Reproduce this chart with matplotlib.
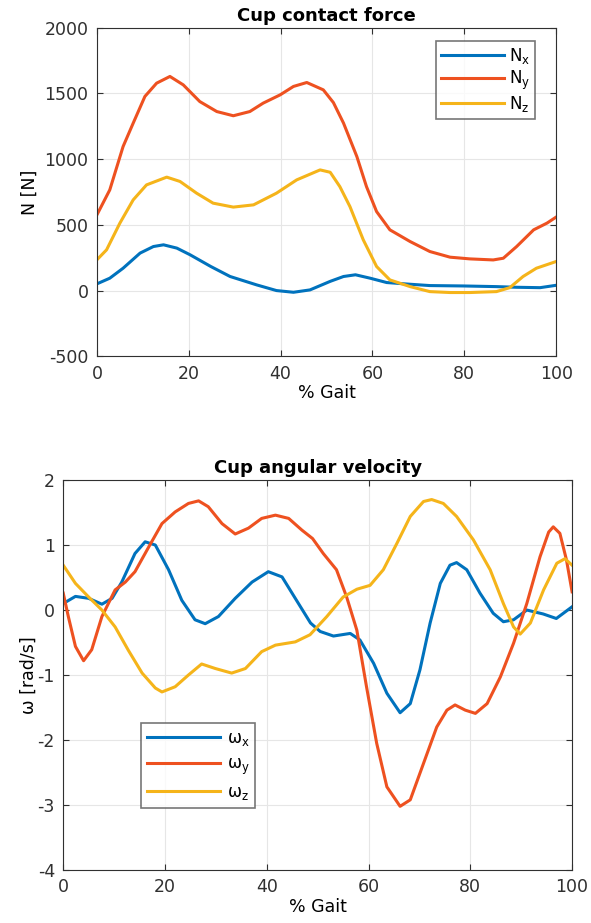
import numpy as np
import matplotlib.pyplot as plt

plt.rcParams['font.family'] = ['DejaVu Sans']
plt.rcParams['axes.unicode_minus'] = False
plt.rcParams['lines.solid_joinstyle'] = 'round'

BLUE = '#0072BD'
RED = '#EE5120'
YELLOW = '#F5B41A'

# Cup contact force (N) vs % gait
gait_nx = [0, 2.8, 5.7, 9.4, 12.3, 14.5, 17.4, 20.3, 24.8, 29.0, 34.8, 39.1, 42.8, 46.4,
           50.8, 53.7, 56.3, 59.5, 63.1, 68.2, 72.5, 79.8, 87.0, 91.4, 96.5, 100]
nx = [51, 94, 170, 285, 335, 348, 323, 272, 183, 107, 43, 0, -13, 5,
      70, 107, 120, 94, 61, 48, 38, 35, 30, 25, 22, 40]

gait_ny = [0, 2.8, 5.7, 7.9, 10.45, 13.0, 15.9, 18.8, 22.4, 26.1, 29.7, 33.3, 36.2, 39.9,
           42.8, 45.7, 49.3, 51.5, 53.7, 56.6, 58.7, 60.9, 63.8, 68.2, 72.5, 76.9, 81.2,
           86.3, 88.5, 91.4, 95.1, 98.0, 100]
ny = [576, 766, 1096, 1274, 1477, 1578, 1629, 1565, 1438, 1362, 1330, 1362, 1426, 1489,
      1553, 1583, 1527, 1430, 1274, 1020, 791, 601, 462, 373, 297, 254, 241,
      233, 246, 335, 462, 513, 559]

gait_nz = [0, 2.1, 5.0, 7.9, 10.8, 15.2, 18.1, 21.7, 25.3, 29.7, 34.1, 39.1, 43.5, 48.6,
           50.8, 52.9, 55.1, 58.0, 60.9, 63.8, 68.2, 72.5, 76.9, 81.2, 87.0, 89.9, 92.8,
           95.7, 100]
nz = [234, 310, 513, 690, 804, 863, 830, 741, 665, 635, 652, 741, 842, 918,
      900, 791, 639, 386, 183, 81, 30, -8, -15, -15, -8, 22, 107,
      170, 221]

# Cup angular velocity (rad/s) vs % gait
gait_wx = [0, 2.4, 5.0, 7.6, 9.6, 11.5, 14.1, 16.1, 18.1, 20.7, 23.3, 25.9, 27.9, 30.5,
           33.8, 37.1, 40.3, 43.0, 45.6, 48.6, 50.5, 53.1, 56.4, 58.3, 61.0, 63.6, 66.2,
           68.2, 70.1, 72.1, 74.1, 76.0, 77.3, 79.3, 81.9, 84.5, 86.5, 88.5, 91.1, 94.3,
           96.9, 100]
wx = [0.10, 0.21, 0.18, 0.09, 0.18, 0.43, 0.87, 1.05, 1.0, 0.62, 0.15, -0.15, -0.21, -0.10,
      0.18, 0.43, 0.59, 0.51, 0.18, -0.2, -0.33, -0.40, -0.36, -0.46, -0.82, -1.28, -1.58,
      -1.44, -0.92, -0.2, 0.41, 0.69, 0.73, 0.62, 0.26, -0.05, -0.18, -0.15, 0.0, -0.06,
      -0.13, 0.05]

gait_wy = [0, 1.0, 2.4, 4.0, 5.6, 7.6, 10.2, 12.2, 14.1, 16.8, 19.4, 22.0, 24.6, 26.6,
           28.5, 31.2, 33.8, 36.4, 39.0, 41.7, 44.3, 46.9, 49.0, 51.1, 53.7, 55.7, 57.7,
           59.6, 61.6, 63.6, 66.2, 68.2, 70.8, 73.4, 75.4, 77.0, 79.0, 81.0, 83.3, 85.9,
           88.5, 91.1, 93.7, 95.4, 96.3, 97.6, 98.9, 100]
wy = [0.26, -0.10, -0.56, -0.78, -0.61, -0.10, 0.31, 0.43, 0.59, 0.97, 1.33, 1.51, 1.64, 1.68,
      1.59, 1.33, 1.17, 1.26, 1.41, 1.46, 1.41, 1.23, 1.1, 0.87, 0.62, 0.2, -0.31,
      -1.18, -2.05, -2.72, -3.02, -2.92, -2.36, -1.80, -1.54, -1.46, -1.54, -1.59, -1.44, -1.03,
      -0.51, 0.10, 0.82, 1.2, 1.28, 1.18, 0.77, 0.28]

gait_wz = [0, 2.4, 5.0, 7.6, 10.2, 12.8, 15.5, 18.1, 19.4, 22.0, 24.6, 27.2, 29.9, 33.1,
           35.8, 39.0, 41.7, 45.6, 48.5, 51.8, 55.0, 57.7, 60.3, 62.9, 65.6, 68.2, 70.8,
           72.4, 74.7, 77.3, 80.6, 83.9, 86.5, 88.5, 89.8, 91.8, 94.4, 97.0, 98.6, 100]
wz = [0.69, 0.41, 0.2, 0.0, -0.26, -0.62, -0.97, -1.2, -1.26, -1.18, -1.0, -0.83, -0.90, -0.97,
      -0.90, -0.64, -0.54, -0.49, -0.38, -0.10, 0.2, 0.32, 0.38, 0.62, 1.03, 1.44, 1.67,
      1.70, 1.64, 1.44, 1.08, 0.62, 0.1, -0.26, -0.37, -0.2, 0.31, 0.72, 0.79, 0.69]


def style(ax):
    ax.grid(True, color='#e6e6e6', linewidth=0.8)
    ax.set_axisbelow(True)
    ax.tick_params(direction='in', top=True, right=True, labelsize=12.5,
                   colors='#303030', length=4, pad=6)
    for s in ax.spines.values():
        s.set_color('#303030')
        s.set_linewidth(0.8)


fig = plt.figure(figsize=(5.91, 9.23), dpi=100)

ax1 = fig.add_axes([0.164, 0.614, 0.777, 0.356])
ax1.plot(gait_nx, nx, color=BLUE, lw=2.2, label='N$_\\mathregular{x}$')
ax1.plot(gait_ny, ny, color=RED, lw=2.2, label='N$_\\mathregular{y}$')
ax1.plot(gait_nz, nz, color=YELLOW, lw=2.2, label='N$_\\mathregular{z}$')
ax1.set_xlim(0, 100)
ax1.set_ylim(-500, 2000)
ax1.set_xticks(np.arange(0, 101, 20))
ax1.set_yticks(np.arange(-500, 2001, 500))
ax1.set_xlabel('% Gait', fontsize=12.5, labelpad=1)
ax1.set_ylabel('N [N]', fontsize=12.5, labelpad=4)
ax1.set_title('Cup contact force', fontsize=13, fontweight='bold', pad=5)
style(ax1)
leg1 = ax1.legend(loc='upper right', bbox_to_anchor=(0.954, 0.96), fontsize=12,
                  fancybox=False, edgecolor='#555555', handlelength=3.8,
                  borderpad=0.3, labelspacing=0.15, handletextpad=0.3,
                  borderaxespad=0)
leg1.get_frame().set_linewidth(1.2)

ax2 = fig.add_axes([0.107, 0.0574, 0.861, 0.4225])
ax2.plot(gait_wx, wx, color=BLUE, lw=2.2, label='ω$_\\mathregular{x}$')
ax2.plot(gait_wy, wy, color=RED, lw=2.2, label='ω$_\\mathregular{y}$')
ax2.plot(gait_wz, wz, color=YELLOW, lw=2.2, label='ω$_\\mathregular{z}$')
ax2.set_xlim(0, 100)
ax2.set_ylim(-4, 2)
ax2.set_xticks(np.arange(0, 101, 20))
ax2.set_yticks(np.arange(-4, 3, 1))
ax2.set_xlabel('% Gait', fontsize=12.5, labelpad=1)
ax2.set_ylabel('ω [rad/s]', fontsize=12.5, labelpad=0)
ax2.set_title('Cup angular velocity', fontsize=13, fontweight='bold', pad=5)
style(ax2)
leg2 = ax2.legend(loc='lower left', bbox_to_anchor=(0.153, 0.159), fontsize=12,
                  fancybox=False, edgecolor='#555555', handlelength=4.4,
                  borderpad=0.35, labelspacing=0.4, handletextpad=0.4,
                  borderaxespad=0)
leg2.get_frame().set_linewidth(1.2)

fig.savefig('out.png', dpi=100, facecolor='white')
